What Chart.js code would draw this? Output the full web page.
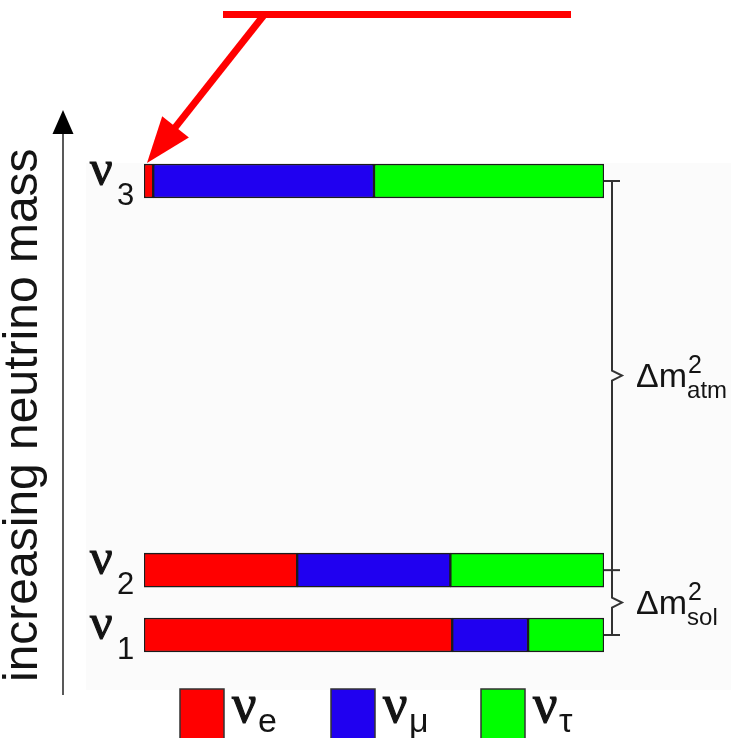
<!DOCTYPE html>
<html>
<head>
<meta charset="utf-8">
<script src="https://cdn.jsdelivr.net/npm/chart.js@4/dist/chart.umd.min.js"></script>
<style>
  html, body { margin: 0; padding: 0; background: #ffffff; }
  #wrap { width: 731px; height: 738px; position: relative; }
</style>
</head>
<body>
<div id="wrap"><canvas id="c" width="731" height="738"></canvas></div>
<script>
// Mass eigenstates, their place on the mass axis, and flavour content of each
const states = ['1', '2', '3'];
const massLevels = [1, 2, 8];
const electronShare = [0.67, 0.333, 0.02];
const muonShare = [0.165, 0.333, 0.48];
const tauShare = [0.165, 0.334, 0.50];
const flavourLabels = ['e', 'μ', 'τ'];
const flavourColors = ['#ff0000', '#2000f0', '#00ff00'];
const splittingLabels = ['sol', 'atm'];
const axisTitle = 'increasing neutrino mass';

const shares = [electronShare, muonShare, tauShare];

const datasets = shares.map((arr, k) => ({
  label: 'ν' + flavourLabels[k],
  data: massLevels.map((m, i) => ({ x: arr[i], y: m })),
  backgroundColor: flavourColors[k],
  borderColor: '#1c1c1c',
  borderWidth: 1.5,
  borderSkipped: false,
  barThickness: 34
}));

const INK = '#141414';
const NU_FONT = '"Liberation Serif", "DejaVu Serif", serif';
const SANS = '"Liberation Sans", Arial, sans-serif';

// heavier Greek letter: fill plus a thin outline
function boldGlyph(ctx, ch, x, y, size) {
  ctx.font = size + 'px ' + NU_FONT;
  ctx.fillText(ch, x, y);
  ctx.lineWidth = 1.2;
  ctx.strokeStyle = INK;
  ctx.strokeText(ch, x, y);
}

const decor = {
  id: 'decor',
  beforeDraw(chart) {
    const ctx = chart.ctx;
    ctx.save();
    ctx.fillStyle = '#fbfbfb';
    ctx.fillRect(86, 163, 645, 527);
    ctx.restore();
  },
  afterDraw(chart) {
    const ctx = chart.ctx;
    const xs = chart.scales.x, ys = chart.scales.y;
    const x0 = xs.getPixelForValue(0), x1 = xs.getPixelForValue(1);
    const yPix = massLevels.map(m => ys.getPixelForValue(m));
    ctx.save();

    // mass axis arrow
    ctx.strokeStyle = '#222';
    ctx.lineWidth = 1.5;
    ctx.beginPath();
    ctx.moveTo(63, 695);
    ctx.lineTo(63, 130);
    ctx.stroke();
    ctx.fillStyle = '#000';
    ctx.beginPath();
    ctx.moveTo(63, 110);
    ctx.lineTo(52.5, 134);
    ctx.lineTo(73.5, 134);
    ctx.closePath();
    ctx.fill();

    // rotated axis title
    ctx.save();
    ctx.translate(37, 682);
    ctx.rotate(-Math.PI / 2);
    ctx.fillStyle = INK;
    ctx.font = '48px ' + SANS;
    ctx.textAlign = 'left';
    ctx.textBaseline = 'alphabetic';
    ctx.fillText(axisTitle, 0, 0);
    ctx.restore();

    // state labels ν1, ν2, ν3
    states.forEach((s, i) => {
      const y = yPix[i];
      ctx.fillStyle = INK;
      ctx.textAlign = 'left';
      ctx.textBaseline = 'alphabetic';
      boldGlyph(ctx, 'ν', 90, y + 4, 50);
      ctx.font = '31px ' + SANS;
      ctx.fillText(s, 117, y + 24);
    });

    // red pointer to the small electron share of ν3
    const tipX = x0 + 3, tipY = yPix[2] - 18;
    ctx.fillStyle = '#ff0000';
    ctx.fillRect(223, 11, 348, 7);
    const sx = 264, sy = 15;
    const dx = tipX - sx, dy = tipY - sy;
    const len = Math.hypot(dx, dy);
    const ux = dx / len, uy = dy / len;
    const nx = -uy, ny = ux;
    const headLen = 46, headHalf = 17;
    const bx = tipX - ux * headLen, by = tipY - uy * headLen;
    ctx.strokeStyle = '#ff0000';
    ctx.lineWidth = 7;
    ctx.beginPath();
    ctx.moveTo(sx, sy);
    ctx.lineTo(bx + ux * 4, by + uy * 4);
    ctx.stroke();
    ctx.beginPath();
    ctx.moveTo(tipX, tipY);
    ctx.lineTo(bx + nx * headHalf, by + ny * headHalf);
    ctx.lineTo(bx - nx * headHalf, by - ny * headHalf);
    ctx.closePath();
    ctx.fill();

    // splitting brackets
    const bxLine = 612;
    ctx.strokeStyle = '#333';
    ctx.lineWidth = 2;
    const midSol = (yPix[0] + yPix[1]) / 2;
    const midAtm = (yPix[1] + yPix[2]) / 2;
    ctx.beginPath();
    ctx.moveTo(bxLine, yPix[2]);
    ctx.lineTo(bxLine, midAtm - 5);
    ctx.lineTo(bxLine + 10, midAtm);
    ctx.lineTo(bxLine, midAtm + 5);
    ctx.lineTo(bxLine, midSol - 5);
    ctx.lineTo(bxLine + 10, midSol);
    ctx.lineTo(bxLine, midSol + 5);
    ctx.lineTo(bxLine, yPix[0]);
    ctx.stroke();
    yPix.forEach(y => {
      ctx.beginPath();
      ctx.moveTo(x1, y);
      ctx.lineTo(620, y);
      ctx.stroke();
    });

    // Δm² labels
    const dm = (mid, sub) => {
      ctx.fillStyle = INK;
      ctx.textAlign = 'left';
      ctx.textBaseline = 'alphabetic';
      ctx.font = '34px ' + SANS;
      ctx.fillText('Δm', 636, mid + 11);
      const w = ctx.measureText('Δm').width;
      ctx.font = '25px ' + SANS;
      ctx.fillText('2', 636 + w + 1, mid - 3);
      ctx.font = '24px ' + SANS;
      ctx.fillText(sub, 636 + w, mid + 22);
    };
    dm(midAtm, splittingLabels[1]);
    dm(midSol, splittingLabels[0]);

    // flavour key
    const keyX = [180, 331, 481];
    flavourLabels.forEach((f, k) => {
      const kx = keyX[k];
      ctx.fillStyle = flavourColors[k];
      ctx.fillRect(kx, 689, 44, 55);
      ctx.strokeStyle = '#333';
      ctx.lineWidth = 1.5;
      ctx.strokeRect(kx, 689, 44, 55);
      ctx.fillStyle = INK;
      boldGlyph(ctx, 'ν', kx + 52, 722, 54);
      ctx.font = '34px ' + SANS;
      ctx.fillText(f, kx + 78, 732);
    });

    ctx.restore();
  }
};

new Chart(document.getElementById('c'), {
  type: 'bar',
  data: { datasets },
  options: {
    indexAxis: 'y',
    responsive: false,
    animation: false,
    devicePixelRatio: 1,
    layout: { padding: { left: 144, right: 127, top: 116.14, bottom: 38.14 } },
    scales: {
      x: { type: 'linear', stacked: true, min: 0, max: 1, display: false, offset: false },
      y: { type: 'linear', stacked: true, min: 0, max: 9, display: false, offset: false }
    },
    plugins: { legend: { display: false }, tooltip: { enabled: false } }
  },
  plugins: [decor]
});
</script>
</body>
</html>
